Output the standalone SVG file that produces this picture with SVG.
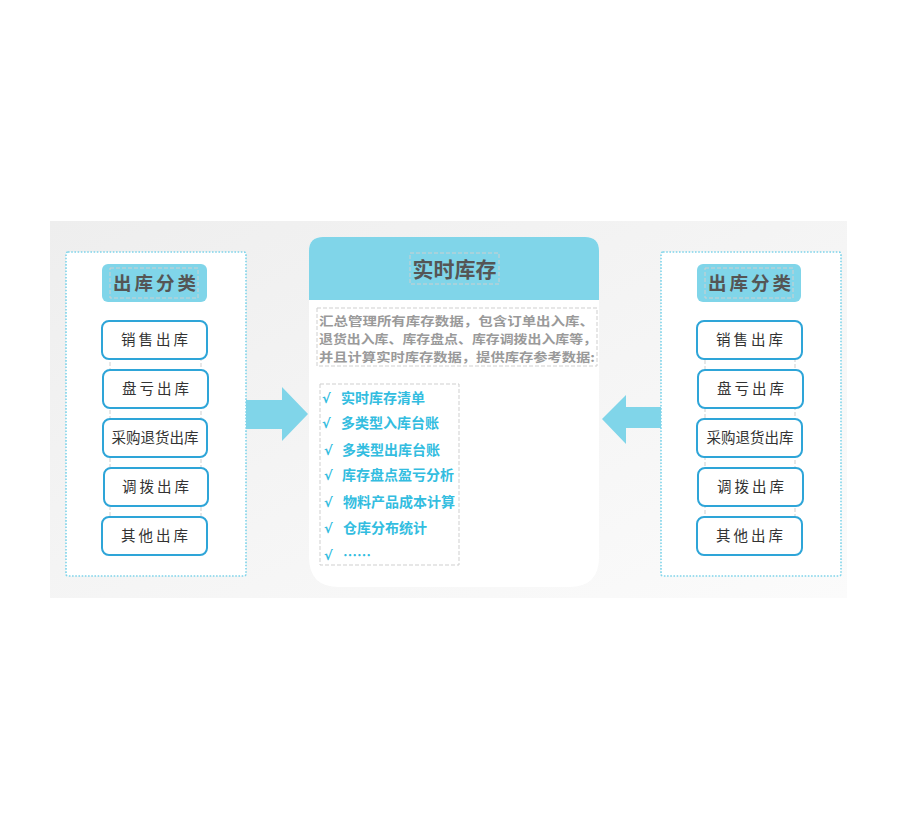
<svg xmlns="http://www.w3.org/2000/svg" width="910" height="820" viewBox="0 0 910 820">
<defs>
<linearGradient id="bg" x1="0" y1="0" x2="1" y2="1">
<stop offset="0" stop-color="#eeeeee"/>
<stop offset="1" stop-color="#fbfbfb"/>
</linearGradient>
<style>
text{font-family:"Noto Sans CJK SC","Noto Sans",sans-serif}
.outer{fill:#fff;stroke:#7fd4ea;stroke-width:1.6;stroke-dasharray:1.6 1.6}
.ttl{fill:#80d5e9}
.ttlt{font-size:18.5px;font-weight:700;fill:#555;letter-spacing:3px;text-anchor:middle}
.item{fill:#fff;stroke:#2ea5d8;stroke-width:2}
.itemt{font-size:14.5px;fill:#333;text-anchor:middle}
.sp{letter-spacing:3px}
.dash{fill:none;stroke:#cfcfcf;stroke-width:1;stroke-dasharray:4 2}
.arrow{fill:#80d5e9}
.desc{font-size:12.4px;font-weight:700;fill:#9a9a9a}
.li{font-size:14px;font-weight:700;fill:#33bde0}
.ck{font-family:"DejaVu Sans",sans-serif;font-size:13px;font-weight:700;fill:#33bde0}
</style>
</defs>
<rect x="50" y="221" width="797" height="377" fill="url(#bg)"/>

<g id="connectors">
<path class="arrow" d="M246,400 H282 V387 L308,414 L282,441 V429 H246 Z"/>
<path class="arrow" d="M661,407 H626 V395 L602,419 L626,444 V428 H661 Z"/>
</g>

<g id="left-panel">
<rect class="outer" x="66" y="252" width="180" height="324" rx="2"/>
<g id="left-title"><rect class="ttl" x="102" y="264" width="105" height="38" rx="6"/><rect class="dash" x="110" y="268" width="88" height="30"/><text class="ttlt" x="156" y="290">出库分类</text></g>
<rect class="dash" x="110" y="328" width="91" height="219"/>
<g id="l1"><rect class="item" x="102" y="321" width="105" height="38" rx="7"/><text class="itemt sp" x="156" y="345">销售出库</text></g>
<g id="l2"><rect class="item" x="103" y="370" width="105" height="38" rx="7"/><text class="itemt sp" x="157" y="394">盘亏出库</text></g>
<g id="l3"><rect class="item" x="103" y="419" width="104" height="38" rx="7"/><text class="itemt" x="155" y="443">采购退货出库</text></g>
<g id="l4"><rect class="item" x="104" y="468" width="104" height="38" rx="7"/><text class="itemt sp" x="157" y="492">调拨出库</text></g>
<g id="l5"><rect class="item" x="102" y="517" width="105" height="38" rx="7"/><text class="itemt sp" x="156" y="541">其他出库</text></g>
</g>

<g id="right-panel">
<rect class="outer" x="661" y="252" width="180" height="324" rx="2"/>
<g id="right-title"><rect class="ttl" x="697" y="264" width="104" height="38" rx="6"/><rect class="dash" x="705" y="268" width="88" height="30"/><text class="ttlt" x="751" y="290">出库分类</text></g>
<rect class="dash" x="705" y="328" width="90" height="219"/>
<g id="r1"><rect class="item" x="697" y="321" width="105" height="38" rx="7"/><text class="itemt sp" x="751" y="345">销售出库</text></g>
<g id="r2"><rect class="item" x="698" y="370" width="105" height="38" rx="7"/><text class="itemt sp" x="752" y="394">盘亏出库</text></g>
<g id="r3"><rect class="item" x="697" y="419" width="105" height="38" rx="7"/><text class="itemt" x="750" y="443">采购退货出库</text></g>
<g id="r4"><rect class="item" x="698" y="468" width="105" height="38" rx="7"/><text class="itemt sp" x="752" y="492">调拨出库</text></g>
<g id="r5"><rect class="item" x="697" y="517" width="105" height="38" rx="7"/><text class="itemt sp" x="751" y="541">其他出库</text></g>
</g>

<g id="center-card">
<path d="M323,237 H585 Q599,237 599,251 V557 Q599,587 569,587 H339 Q309,587 309,557 V251 Q309,237 323,237 Z" fill="#fff"/>
<path d="M323,237 H585 Q599,237 599,251 V300 H309 V251 Q309,237 323,237 Z" fill="#80d5e9"/>
<rect class="dash" x="410" y="253" width="89" height="31"/>
<text x="454.5" y="277" font-size="21" font-weight="700" fill="#555" text-anchor="middle">实时库存</text>
<rect class="dash" x="317" y="308" width="280" height="58"/>
<text class="desc" x="319" y="326" textLength="275" lengthAdjust="spacingAndGlyphs">汇总管理所有库存数据，包含订单出入库、</text>
<text class="desc" x="319" y="344" textLength="278" lengthAdjust="spacingAndGlyphs">退货出入库、库存盘点、库存调拨出入库等，</text>
<text class="desc" x="319" y="362" textLength="276" lengthAdjust="spacingAndGlyphs">并且计算实时库存数据，提供库存参考数据:</text>
<rect class="dash" x="320" y="384" width="139" height="181"/>
<text class="ck" x="322" y="403">√</text><text class="li" x="341" y="403">实时库存清单</text>
<text class="ck" x="322" y="428">√</text><text class="li" x="341" y="428">多类型入库台账</text>
<text class="ck" x="324" y="455">√</text><text class="li" x="342" y="455">多类型出库台账</text>
<text class="ck" x="324" y="480">√</text><text class="li" x="342" y="480">库存盘点盈亏分析</text>
<text class="ck" x="324" y="507">√</text><text class="li" x="343" y="507">物料产品成本计算</text>
<text class="ck" x="324" y="533">√</text><text class="li" x="343" y="533">仓库分布统计</text>
<text class="ck" x="324" y="560">√</text><text class="li" x="343" y="560">……</text>
</g>
</svg>
